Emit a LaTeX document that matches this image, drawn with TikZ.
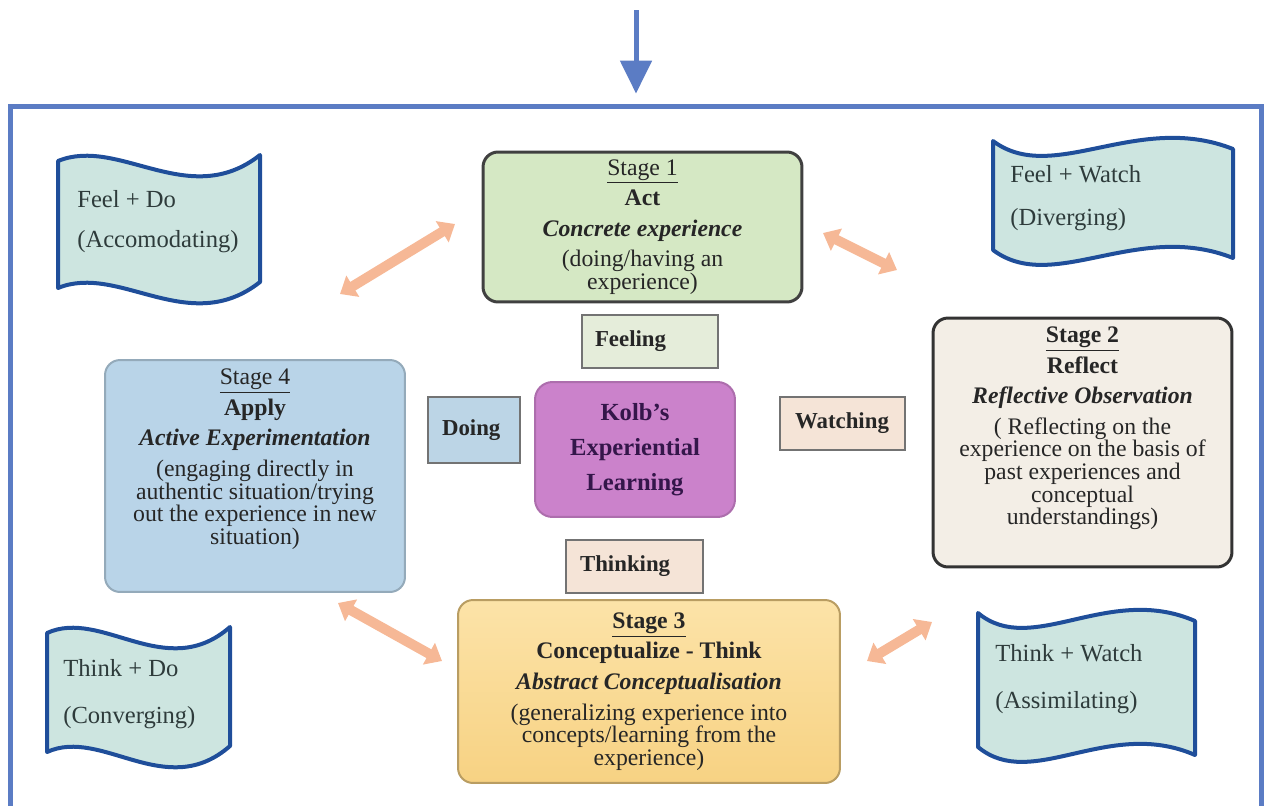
\documentclass[tikz,border=0pt]{standalone}
\usepackage{fontspec}
\setmainfont{Liberation Serif}
\usepackage{xcolor}
\usepackage{tikz}
\usetikzlibrary{arrows.meta, positioning}

\definecolor{frameblue}{HTML}{5B7CC4}
\definecolor{flagblue}{HTML}{1F4E9A}
\definecolor{flagfill}{HTML}{CDE5E0}
\definecolor{actgreen}{HTML}{D5E8C4}
\definecolor{reflectbeige}{HTML}{F3EEE6}
\definecolor{thinktop}{HTML}{FCE3A8}
\definecolor{thinkbottom}{HTML}{F7D283}
\definecolor{applyblue}{HTML}{B9D4E8}
\definecolor{kolbpurple}{HTML}{CB82CB}
\definecolor{kolbtext}{HTML}{34164A}
\definecolor{feelgreen}{HTML}{E5EDDA}
\definecolor{doblue}{HTML}{BCD5E6}
\definecolor{watchpeach}{HTML}{F5E4D7}
\definecolor{cyclepeach}{HTML}{F6B896}
\definecolor{flagtextcol}{HTML}{2E3B3B}

\newcommand{\tightlines}{\lineskiplimit -10pt\relax\lineskip 0pt\relax}

\tikzstyle{stagebox} = [rectangle, rounded corners=0.3cm, align=center, text=black!85, font=\fontsize{13.5}{12.9}\selectfont\tightlines]
\tikzstyle{smallbox} = [rectangle, draw=black!55, line width=0.04cm, align=left, text=black!85, font=\bfseries\fontsize{13}{14}\selectfont]
\tikzstyle{flag} = [draw=flagblue, fill=flagfill, line width=0.08cm, line join=round]
\tikzstyle{flagtext} = [anchor=west, inner sep=0pt, align=left, text=flagtextcol, font=\fontsize{14}{16}\selectfont]
\tikzstyle{cyclearrow} = [<->, >={Triangle[width=0.48cm,length=0.3cm]}, draw=cyclepeach, line width=0.2cm]
\tikzstyle{inarrow} = [-{Triangle[width=0.62cm,length=0.66cm]}, draw=frameblue, line width=0.1cm]

\begin{document}
\begin{tikzpicture}[x=0.02cm, y=-0.02cm]
    \useasboundingbox (0,0) rectangle (1268,805);

    % outer frame and incoming arrow
    \node (frame) [draw=frameblue, line width=0.1cm, minimum width=25.04cm, minimum height=14.5cm, inner sep=0pt] at (636,468.5) {};
    \coordinate (intop) at (636,10);
    \draw [inarrow, shorten >=0.2cm] (intop) -- (frame.north);

    % learning style banners
    \draw [flag] (58,161) .. controls (119,136) and (189,211) .. (260,155) -- (260,282) .. controls (189,338) and (119,263) .. (58,288) -- cycle;
    \node (feeldo) [flagtext] at (77,221.5) {Feel + Do\\[6.7pt](Accomodating)};

    \draw [flag] (993,141) .. controls (1053,186) and (1137,111) .. (1233,149) -- (1233,258) .. controls (1137,220) and (1053,295) .. (993,250) -- cycle;
    \node (feelwatch) [flagtext] at (1010,198.5) {Feel + Watch\\[8.4pt](Diverging)};

    \draw [flag] (47,633) .. controls (102,608) and (166,683) .. (230,627) -- (230,746) .. controls (166,802) and (102,727) .. (47,752) -- cycle;
    \node (thinkdo) [flagtext] at (63,694) {Think + Do\\[11pt](Converging)};

    \draw [flag] (978,613) .. controls (1032,658) and (1108,583) .. (1195,621) -- (1195,755) .. controls (1108,717) and (1032,792) .. (978,747) -- cycle;
    \node (thinkwatch) [flagtext] at (995,679) {Think + Watch\\[11pt](Assimilating)};

    % the four stages
    \node (act) [stagebox, draw=black!75, line width=0.06cm, fill=actgreen, minimum width=6.38cm, minimum height=3.0cm] at (642.5,227)
        {\underline{Stage 1}\\[4.5pt]\textbf{Act}\\[4.5pt]\textbf{\textit{Concrete experience}}\\[4.5pt](doing/having an\\experience)};
    \node (reflect) [stagebox, draw=black!80, line width=0.06cm, fill=reflectbeige, minimum width=5.98cm, minimum height=4.98cm, text depth=19pt] at (1082.5,442.5)
        {\textbf{\underline{Stage 2}}\\[4.5pt]\textbf{Reflect}\\[4.5pt]\textbf{\textit{Reflective Observation}}\\[4.5pt]( Reflecting on the\\experience on the basis of\\past experiences and\\conceptual\\understandings)};
    \node (think) [stagebox, draw=black!25!thinkbottom, line width=0.04cm, top color=thinktop, bottom color=thinkbottom, minimum width=7.64cm, minimum height=3.66cm] at (649,691.5)
        {\textbf{\underline{Stage 3}}\\[4.5pt]\textbf{Conceptualize - Think}\\[4.5pt]\textbf{\textit{Abstract Conceptualisation}}\\[4.5pt](generalizing experience into\\concepts/learning from the\\experience)};
    \node (apply) [stagebox, draw=applyblue!80!black, line width=0.04cm, fill=applyblue, minimum width=6.0cm, minimum height=4.64cm, text depth=22pt] at (255,476)
        {\underline{Stage 4}\\[4.5pt]\textbf{Apply}\\[4.5pt]\textbf{\textit{Active Experimentation}}\\[4.5pt](engaging directly in\\authentic situation/trying\\out the experience in new\\situation)};

    % centre
    \node (kolb) [rectangle, rounded corners=0.35cm, draw=kolbpurple!85!black, line width=0.04cm, fill=kolbpurple, minimum width=4.0cm, minimum height=2.7cm, align=center, text=kolbtext, font=\bfseries\fontsize{14}{20}\selectfont] at (635,449.5)
        {Kolb's\\Experiential\\Learning};

    \node (feeling) [smallbox, fill=feelgreen, minimum width=2.72cm, minimum height=1.06cm, inner xsep=0.26cm, text width=2.2cm] at (650,341.5) {Feeling};
    \node (doing) [smallbox, fill=doblue, minimum width=1.84cm, minimum height=1.32cm, inner xsep=0.28cm, text width=1.28cm] at (474,430) {Doing};
    \node (watching) [smallbox, fill=watchpeach, minimum width=2.5cm, minimum height=1.06cm, inner xsep=0.3cm, text width=1.9cm] at (842.5,423.5) {Watching};
    \node (thinking) [smallbox, fill=watchpeach, minimum width=2.74cm, minimum height=1.06cm, inner xsep=0.28cm, text width=2.18cm] at (634.5,566.5) {Thinking};

    % cycle arrows
    \coordinate (c41) at (340,294);
    \coordinate (c14) at (455,224);
    \coordinate (c12) at (823,233);
    \coordinate (c21) at (897,270);
    \coordinate (c23) at (932,622);
    \coordinate (c32) at (867,661);
    \coordinate (c43) at (338,603);
    \coordinate (c34) at (442,661);
    \draw [cyclearrow] (c41) -- (c14);
    \draw [cyclearrow] (c12) -- (c21);
    \draw [cyclearrow] (c23) -- (c32);
    \draw [cyclearrow] (c43) -- (c34);
\end{tikzpicture}
\end{document}
